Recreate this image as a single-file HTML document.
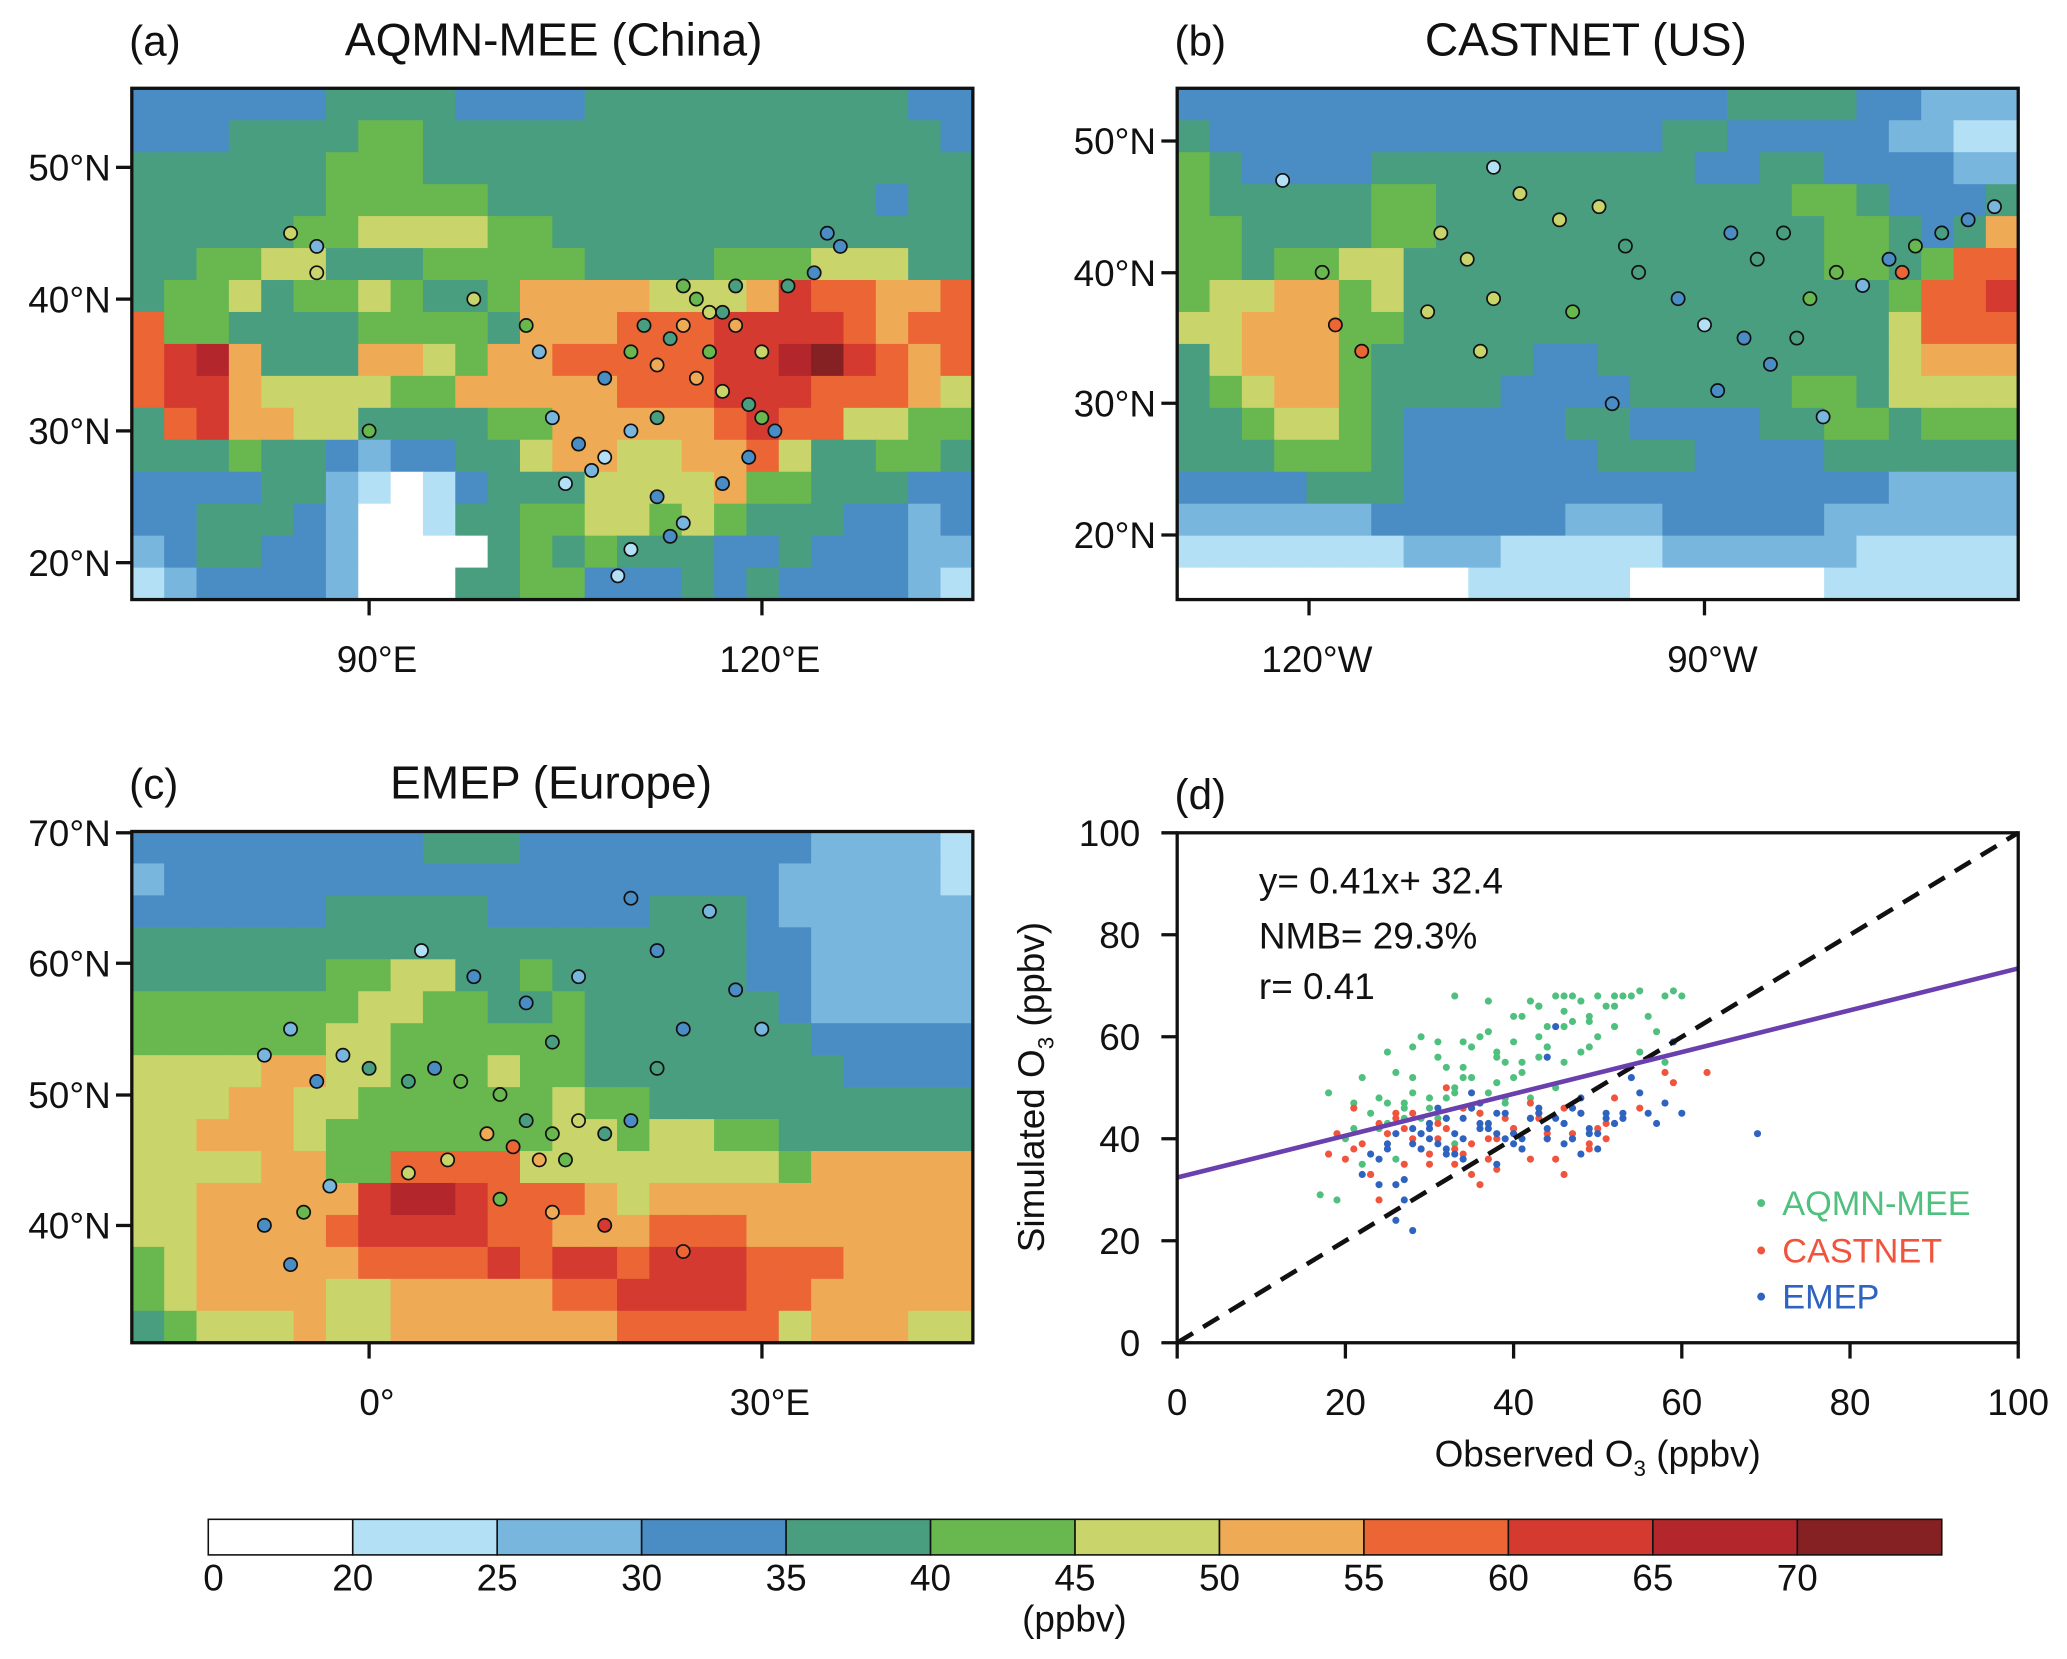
<!DOCTYPE html>
<html><head><meta charset="utf-8"><style>
html,body{margin:0;padding:0;background:#fff;}
svg{display:block;font-family:"Liberation Sans",sans-serif;}
</style></head><body>
<svg id="fig" width="2067" height="1659" viewBox="0 0 1568 1259" preserveAspectRatio="none" xmlns="http://www.w3.org/2000/svg"></svg>
<script>
// ---- data ----
const levelColors=["#ffffff","#b3e0f5","#78b6de","#4a8cc4","#4a9e80","#69b84f","#c9d46b","#eeaa55","#eb6535","#d43a30","#b3262b","#852023"];
const cbarLabels=["0","20","25","30","35","40","45","50","55","60","65","70"];
const mapA=[
"33333344443333444444444433",
"33344445544444444444444443",
"44444455544444444444444444",
"44444455555444444444444344",
"44444556666554444444444444",
"44556644455555444455566644",
"45564556544577776667988778",
"85544445555477788899998788",
"89a74447765778888899ab9878",
"89976666557777788899988876",
"48977664444557777789886655",
"44454432334467766778644554",
"33334421013444666675544433",
"33444320014455665654443323",
"23443320000454544433433322",
"12333320004455333434333321"];
const mapB=[
"33333333333333333444433222",
"43333333333333344333332211",
"54333344444444443344333322",
"54444455444444444445543334",
"55444455444444444444554347",
"55455664444444444444554588",
"56677564444444444444445889",
"66777554444444444444446888",
"46777544444334444444446777",
"45677544443333444445546666",
"44566543333344333344554555",
"44455543333334443333444444",
"33334443333333333333332222",
"22222233333322233333222222",
"11111112221111122222211111",
"00000000011111000000111111"];
const mapC=[
"33333333344433333333322221",
"23333333333333333333222221",
"33333344444333334443222222",
"44444444444444444443322222",
"44444455664454444443322222",
"55555556655445444444322222",
"55555566555555444444433333",
"66667766555655444444443333",
"66677665555556554444444444",
"66777655555556656655444444",
"66667755888866666666577777",
"66777779aa9888767777777777",
"66777789999887778887777777",
"56777778888989989998887777",
"56777766777778899998877777",
"45666766777777788888677766"];
// stations: lon, lat, level
const stA=[[84,45,6],[86,44,2],[86,42,6],[90,30,5],[98,40,6],[102,38,5],[103,36,2],[104,31,2],[105,26,1],[106,29,3],[107,27,2],[108,34,3],[110,36,5],[111,38,4],[112,35,7],[113,37,4],[114,38,7],[115,40,5],[116,39,6],[117,39,4],[118,38,7],[116,36,5],[115,34,7],[117,33,6],[119,32,4],[120,31,5],[121,30,3],[119,28,3],[117,26,3],[114,23,2],[113,22,3],[110,21,1],[109,19,1],[112,25,3],[110,30,2],[112,31,4],[124,42,3],[125,45,3],[126,44,3],[122,41,4],[118,41,4],[114,41,5],[120,36,6],[108,28,1]];
const stB=[[-122,47,1],[-106,48,1],[-104,46,6],[-101,44,6],[-98,45,6],[-96,42,4],[-110,43,6],[-108,41,6],[-111,37,6],[-106,38,6],[-119,40,5],[-118,36,8],[-116,34,8],[-107,34,6],[-100,37,5],[-95,40,4],[-92,38,3],[-90,36,1],[-87,35,3],[-85,33,3],[-83,35,4],[-82,38,5],[-80,40,5],[-78,39,2],[-76,41,3],[-74,42,5],[-72,43,4],[-70,44,3],[-68,45,2],[-84,43,4],[-86,41,4],[-88,43,3],[-89,31,3],[-81,29,2],[-75,40,8],[-97,30,3]];
const stC=[[-8,53,2],[-6,55,2],[-4,51,3],[-2,53,2],[0,52,4],[3,51,4],[5,52,3],[7,51,5],[10,50,5],[12,48,4],[14,47,5],[16,48,6],[18,47,4],[20,48,3],[9,47,7],[11,46,8],[13,45,7],[15,45,5],[6,45,6],[3,44,6],[-3,43,2],[-5,41,5],[-8,40,3],[-6,37,3],[10,42,5],[14,41,7],[18,40,9],[24,38,8],[4,61,1],[8,59,3],[12,57,3],[16,59,2],[22,61,3],[26,64,2],[20,65,3],[24,55,3],[22,52,4],[14,54,4],[28,58,3],[30,55,2]];
// scatter data (observed, simulated)
const aqmnObs=[17,18,19,20,21,22,23,24,25,26,27,28,29,30,31,32,33,34,35,36,37,38,39,40,41,42,43,44,45,46,47,48,49,50,51,52,53,54,55,56,57,58,59,60,24,27,30,33,36,39,42,45,48,26,29,32,35,38,41,44,22,25,28,31,34,37,40,43,46,49,52,55,58,30,33,36,39,21,23,43,46,50,25,28,31,34,37,40,43,46,49,52,27,32,35,38,41,44,47,29,33];
const aqmnSim=[29,49,28,40,42,52,45,48,57,53,47,49,60,48,59,54,68,59,58,60,67,56,55,64,64,67,66,62,68,68,68,67,64,68,66,68,68,68,69,64,61,68,69,68,42,44,46,50,45,47,48,50,57,36,41,44,46,51,55,58,35,43,58,44,52,49,52,56,62,58,62,57,55,43,39,45,48,47,33,60,55,60,47,52,56,54,61,59,66,65,63,66,46,48,52,57,53,58,63,44,49];
const castObs=[18,19,20,21,22,23,24,25,26,27,28,29,30,31,32,33,34,35,36,37,38,39,40,41,42,43,44,45,46,47,48,49,50,51,52,58,59,63,24,28,31,34,37,40,43,46,49,53,35,30,26,33,38,44,21,27,36,42,47,51,55,32];
const castSim=[37,41,36,46,39,33,28,41,44,35,45,38,35,40,50,38,37,39,31,36,40,44,42,38,47,45,40,36,33,40,45,38,42,40,48,53,51,53,43,40,43,46,40,42,44,46,39,44,33,37,45,35,34,41,38,42,45,36,41,43,46,42];
const emepObs=[22,23,24,25,26,27,28,29,30,31,32,33,34,35,36,37,38,39,40,41,42,43,44,45,46,47,48,49,50,51,52,53,54,55,56,57,58,59,60,69,25,27,29,31,33,35,37,39,41,43,45,47,49,51,53,30,32,34,36,38,28,26,44,46,48,24,26,28,30,32,34,36,38,40,42,44,46,48,50,52];
const emepSim=[33,37,36,39,31,28,42,38,43,39,44,41,36,46,47,43,35,40,41,38,44,45,40,62,43,46,48,41,38,44,43,45,52,49,45,43,47,59,45,41,38,32,41,46,37,49,42,45,40,46,44,40,42,45,44,40,37,44,42,45,22,24,56,43,37,31,41,39,42,38,40,43,41,39,44,42,39,45,41,43];
const xTicks=[0,20,40,60,80,100];
const yTicks=[0,20,40,60,80,100];

const NS="http://www.w3.org/2000/svg";
const svg=document.getElementById('fig');
function mk(tag,attrs,parent){const e=document.createElementNS(NS,tag);for(const k in attrs)e.setAttribute(k,attrs[k]);(parent||svg).appendChild(e);return e;}
function txt(s,x,y,size,anchor,parent,fill){const t=mk('text',{x:x,y:y,'font-size':size,'text-anchor':anchor||'start',fill:fill||'#111'},parent);t.textContent=s;return t;}

function drawMap(grid,x0,y0,w,h,name,stations,lonToX,latToY){
  const g=mk('g',{});
  
  
  const rows=grid.length,cols=grid[0].length,cw=w/cols,ch=h/rows;
  for(let r=0;r<rows;r++)for(let c=0;c<cols;c++){
    const v=parseInt(grid[r][c],16);
    const cell=mk('rect',{x:x0+c*cw,y:y0+r*ch,width:cw+0.6,height:ch+0.6,fill:levelColors[v]},g);
    
    
  }
  stations.forEach(s=>{
    const c=mk('circle',{cx:lonToX(s[0]),cy:latToY(s[1]),r:5,fill:levelColors[s[2]],stroke:'#111','stroke-width':1.3},g);
    
    
  });
  mk('rect',{x:x0,y:y0,width:w,height:h,fill:'none',stroke:'#111','stroke-width':2.5},g);
}
drawMap(mapA,100,67,638,388,'map-china',stA,lo=>280+(lo-90)*9.93,la=>127+(50-la)*10);
drawMap(mapB,893,67,638,388,'map-us',stB,lo=>993+(lo+120)*10,la=>107+(50-la)*9.97);
drawMap(mapC,100,631,638,388,'map-europe',stC,lo=>280+lo*9.93,la=>632+(70-la)*9.93);

function ticksY(x,list){list.forEach(([s,y])=>{mk('line',{x1:x-12,y1:y,x2:x,y2:y,stroke:'#111','stroke-width':2.5});const t=txt(s,x-16,y+10,28,'end');});}
function ticksX(y,list){list.forEach(([s,x])=>{mk('line',{x1:x,y1:y,x2:x,y2:y+12,stroke:'#111','stroke-width':2.5});const t=txt(s,x+6,y+55,28,'middle');});}
ticksY(100,[["50°N",127],["40°N",227],["30°N",327],["20°N",427]]);
ticksX(455,[["90°E",280],["120°E",578]]);
ticksY(893,[["50°N",107],["40°N",207],["30°N",306],["20°N",406]]);
ticksX(455,[["120°W",993],["90°W",1293]]);
ticksY(100,[["70°N",632],["60°N",731],["50°N",831],["40°N",930]]);
ticksX(1019,[["0°",280],["30°E",578]]);

[["(a)",98,42],["(b)",891,42],["(c)",98,606],["(d)",891,614]].forEach(([s,x,y])=>{const t=txt(s,x,y,32);});
[["AQMN-MEE (China)",420,42],["CASTNET (US)",1203,42],["EMEP (Europe)",418,606]].forEach(([s,x,y])=>{const t=txt(s,x,y,35,'middle');});

// ---- scatter panel ----
const px0=893,px1=1531,py0=1019,py1=632;
const sx=v=>px0+(v/100)*(px1-px0), sy=v=>py0-(v/100)*(py0-py1);
const pg=mk('g',{});


function pts(ox,oy,col,name){for(let i=0;i<ox.length;i++){const c=mk('circle',{cx:sx(ox[i]),cy:sy(oy[i]),r:2.7,fill:col},pg);}}
pts(aqmnObs,aqmnSim,'#4fc07e','aqmn-point');
pts(castObs,castSim,'#f0543c','castnet-point');
pts(emepObs,emepSim,'#2f63c0','emep-point');
const one=mk('line',{x1:sx(0),y1:sy(0),x2:sx(100),y2:sy(100),stroke:'#111','stroke-width':3.5,'stroke-dasharray':'14,9'},pg);

const slope=0.41,icpt=32.4;
const reg=mk('line',{x1:sx(0),y1:sy(icpt),x2:sx(100),y2:sy(icpt+slope*100),stroke:'#6a3fae','stroke-width':3.5},pg);

mk('rect',{x:px0,y:py1,width:px1-px0,height:py0-py1,fill:'none',stroke:'#111','stroke-width':2.5},pg);
xTicks.forEach(v=>{mk('line',{x1:sx(v),y1:py0,x2:sx(v),y2:py0+12,stroke:'#111','stroke-width':2.5});const t=txt(String(v),sx(v),py0+55,28,'middle');});
yTicks.forEach(v=>{mk('line',{x1:px0-12,y1:sy(v),x2:px0,y2:sy(v),stroke:'#111','stroke-width':2.5});const t=txt(String(v),px0-28,sy(v)+10,28,'end');});
const xt=txt('',1212,1113,28,'middle');xt.innerHTML='Observed O<tspan font-size="17" dy="7">3</tspan><tspan dy="-7"> (ppbv)</tspan>';

const yt=txt('',0,0,28,'middle');yt.setAttribute('transform','translate(792,825) rotate(-90)');yt.innerHTML='Simulated O<tspan font-size="17" dy="7">3</tspan><tspan dy="-7"> (ppbv)</tspan>';

[["y= 0.41x+ 32.4",678],["NMB= 29.3%",720],["r= 0.41",758]].forEach(([s,y])=>{const t=txt(s,955,y,28);});
[["AQMN-MEE",'#4fc07e',922],["CASTNET",'#f0543c',958],["EMEP",'#2f63c0',993]].forEach(([s,c,y])=>{const e=mk('circle',{cx:1336,cy:y-9,r:3,fill:c});const t=txt(s,1352,y,26,'start',svg,c);});

// ---- colorbar ----
const cb0=158,cbw=1315,cbn=levelColors.length,cs=cbw/cbn;
levelColors.forEach((c,i)=>{const r=mk('rect',{x:cb0+i*cs,y:1153,width:cs,height:27,fill:c,stroke:'#111','stroke-width':1.2});});
cbarLabels.forEach((s,i)=>{const t=txt(s,cb0+i*cs+(i==0?4:0),1207,28,'middle');});
const u=txt('(ppbv)',815,1238,28,'middle');
</script>
</body></html>
